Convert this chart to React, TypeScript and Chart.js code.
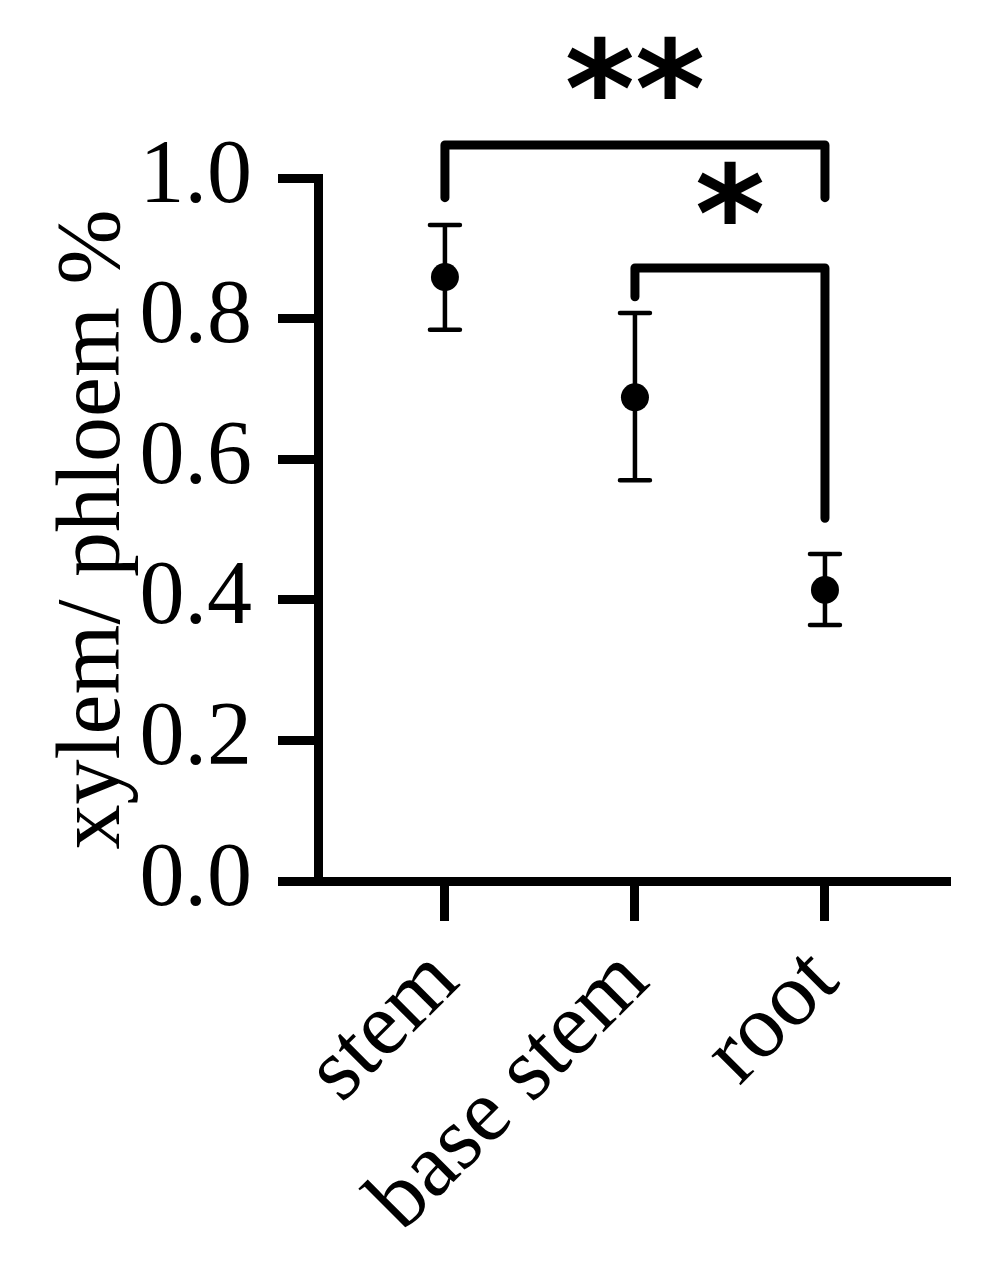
import React, { useEffect, useRef } from 'react';
import { Chart, registerables } from 'chart.js';
Chart.register(...registerables);

const categories = ['stem', 'base stem', 'root'];
const xPositions = [0, 1, 2];
const means = [0.859, 0.688, 0.414];
const errLow = [0.784, 0.57, 0.364];
const errHigh = [0.933, 0.808, 0.465];
const yTicks = [0, 0.2, 0.4, 0.6, 0.8, 1.0];
const bracketOuter = [
  { x: 0, y: 0.972 },
  { x: 0, y: 1.047 },
  { x: 2, y: 1.047 },
  { x: 2, y: 0.972 },
];
const bracketInner = [
  { x: 1, y: 0.831 },
  { x: 1, y: 0.872 },
  { x: 2, y: 0.872 },
  { x: 2, y: 0.516 },
];
const starLabels = ['**', '*'];
const starX = [1, 1.5];
const starY = [1.157, 0.98];

const errorBarPlugin = {
  id: 'errorBars',
  beforeDatasetsDraw(chart: any) {
    const { ctx, scales } = chart;
    const x = scales.x;
    const y = scales.y;
    ctx.save();
    ctx.strokeStyle = '#000';
    ctx.lineWidth = 4.5;
    ctx.lineCap = 'round';
    for (let i = 0; i < xPositions.length; i++) {
      const px = x.getPixelForValue(xPositions[i]);
      const lo = y.getPixelForValue(errLow[i]);
      const hi = y.getPixelForValue(errHigh[i]);
      const cap = 15;
      ctx.beginPath();
      ctx.moveTo(px, lo);
      ctx.lineTo(px, hi);
      ctx.moveTo(px - cap, lo);
      ctx.lineTo(px + cap, lo);
      ctx.moveTo(px - cap, hi);
      ctx.lineTo(px + cap, hi);
      ctx.stroke();
    }
    ctx.restore();
  },
  afterDraw(chart: any) {
    const { ctx, scales } = chart;
    const x = scales.x;
    const y = scales.y;
    ctx.save();
    ctx.fillStyle = '#000';
    ctx.font = 'bold 134px "DejaVu Sans"';
    ctx.textAlign = 'center';
    ctx.textBaseline = 'alphabetic';
    for (let i = 0; i < starLabels.length; i++) {
      const px = x.getPixelForValue(starX[i]);
      const py = y.getPixelForValue(starY[i]);
      const m = ctx.measureText(starLabels[i]);
      const off = (m.actualBoundingBoxAscent - m.actualBoundingBoxDescent) / 2;
      ctx.fillText(starLabels[i], px, py + off);
    }
    ctx.restore();
  },
};

export default function App() {
  const ref = useRef<HTMLCanvasElement | null>(null);
  useEffect(() => {
    document.body.style.margin = '0';
    const canvas = ref.current;
    if (!canvas) return;
    const chart = new Chart(canvas, {
      type: 'scatter',
      data: {
        datasets: [
          {
            type: 'scatter',
            data: xPositions.map((xv, i) => ({ x: xv, y: means[i] })),
            pointRadius: 14,
            pointBackgroundColor: '#000',
            pointBorderWidth: 0,
            clip: false,
          } as any,
          {
            type: 'line',
            data: bracketOuter,
            borderColor: '#000',
            borderWidth: 9,
            pointRadius: 0,
            borderCapStyle: 'round',
            borderJoinStyle: 'round',
            fill: false,
            tension: 0,
            clip: false,
          } as any,
          {
            type: 'line',
            data: bracketInner,
            borderColor: '#000',
            borderWidth: 9,
            pointRadius: 0,
            borderCapStyle: 'round',
            borderJoinStyle: 'round',
            fill: false,
            tension: 0,
            clip: false,
          } as any,
        ],
      },
      options: {
        animation: false,
        responsive: false,
        devicePixelRatio: 1,
        layout: { padding: { top: 178, right: 46, left: 0, bottom: 0 } },
        plugins: {
          legend: { display: false },
          tooltip: { enabled: false },
        },
        scales: {
          x: {
            type: 'linear',
            min: -0.668,
            max: 2.658,
            afterBuildTicks(scale: any) {
              scale.ticks = xPositions.map((v) => ({ value: v }));
            },
            afterFit(scale: any) {
              scale.height = 1268 - 881;
            },
            grid: {
              drawOnChartArea: false,
              drawTicks: true,
              tickLength: 40,
              tickWidth: 9,
              tickColor: '#000',
            },
            border: { display: true, width: 9, color: '#000' },
            ticks: {
              autoSkip: false,
              minRotation: 45,
              maxRotation: 45,
              padding: 8,
              color: '#000',
              font: { family: '"Liberation Serif"', size: 90 },
              callback: (v: any) => categories[Math.round(Number(v))] ?? '',
            },
          },
          y: {
            type: 'linear',
            min: 0,
            max: 1,
            afterBuildTicks(scale: any) {
              scale.ticks = yTicks.map((v) => ({ value: v }));
            },
            afterFit(scale: any) {
              scale.width = 318;
            },
            grid: {
              drawOnChartArea: false,
              drawTicks: true,
              tickLength: 40,
              tickWidth: 9,
              tickColor: '#000',
            },
            border: { display: true, width: 9, color: '#000' },
            ticks: {
              padding: 26,
              color: '#000',
              font: { family: '"Liberation Serif"', size: 90 },
              callback: (v: any) => Number(v).toFixed(1),
            },
            title: {
              display: true,
              text: 'xylem/ phloem %',
              color: '#000',
              font: { family: '"Liberation Serif"', size: 90 },
              padding: { top: 41, bottom: 0 },
            },
          },
        },
      },
      plugins: [errorBarPlugin],
    } as any);
    return () => chart.destroy();
  }, []);
  return (
    <div style={{ width: 996, height: 1268, background: '#fff' }}>
      <canvas ref={ref} width={996} height={1268} style={{ display: 'block' }} />
    </div>
  );
}
